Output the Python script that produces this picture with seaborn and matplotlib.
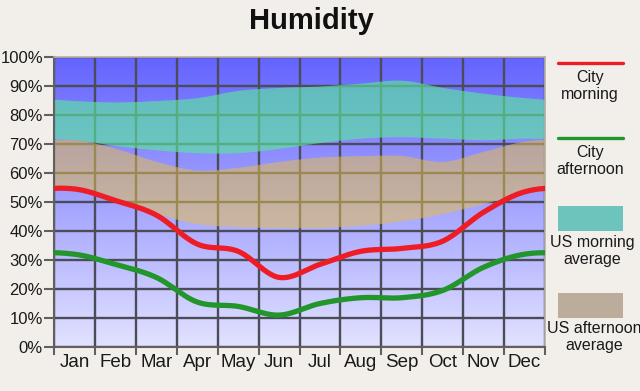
import numpy as np
import pandas as pd
import matplotlib
matplotlib.use("Agg")
import matplotlib.pyplot as plt
from matplotlib.lines import Line2D
from matplotlib.patches import Rectangle
import seaborn as sns

# Monthly humidity values (%) at month centres
MONTHS = ["Jan", "Feb", "Mar", "Apr", "May", "Jun", "Jul", "Aug", "Sep", "Oct", "Nov", "Dec"]
CITY_MORNING = [54.5, 50.5, 45.5, 35.5, 33, 24, 28.5, 33, 34, 36.5, 46.5, 53.5]
CITY_AFTERNOON = [32, 28.5, 24, 15.5, 14, 11, 15, 17, 17, 19.5, 27.5, 32]
US_MORNING_HIGH = [85, 84.5, 85, 86, 88.5, 89.5, 90, 91, 92, 89.5, 87.5, 86]
US_MORNING_LOW = [71.5, 69.5, 68, 67, 67, 68.5, 70.5, 72, 72.5, 72, 71.5, 72]
US_AFTERNOON_HIGH = [71.5, 68.5, 64, 61, 62, 64, 65.5, 66, 66, 64, 67.5, 71]
US_AFTERNOON_LOW = [54.5, 50, 46, 42.5, 41.5, 41.2, 41.2, 42, 43.5, 46, 49.5, 53]

BG = "#f2efeb"
FONT = ["Liberation Sans", "DejaVu Sans"]


def smooth_curve(vals, n=24):
    """Periodic Catmull-Rom curve through the monthly points (drawing only)."""
    v = np.asarray(vals, dtype=float)
    k = len(v)
    xs, ys = [], []
    t = np.linspace(0, 1, n, endpoint=False)
    for i in range(-1, k):
        p0, p1, p2, p3 = v[(i - 1) % k], v[i % k], v[(i + 1) % k], v[(i + 2) % k]
        y = 0.5 * (2 * p1 + (-p0 + p2) * t + (2 * p0 - 5 * p1 + 4 * p2 - p3) * t ** 2
                   + (-p0 + 3 * p1 - 3 * p2 + p3) * t ** 3)
        xs.append(i + 0.5 + t)
        ys.append(y)
    return np.concatenate(xs), np.concatenate(ys)


sns.set_style("white")
plt.rcParams["font.family"] = FONT

fig = plt.figure(figsize=(6.4, 3.91), dpi=100, facecolor=BG)
ax = fig.add_axes([54 / 640, 1 - 347 / 391, 491 / 640, 290 / 391])

# gradient background, dark blue at top to pale lavender at bottom
grad = np.linspace(0, 1, 256).reshape(-1, 1)
cols = np.zeros((256, 1, 3))
cols[..., 0] = (100 + 126 * grad) / 255
cols[..., 1] = (100 + 126 * grad) / 255
cols[..., 2] = 1.0
ax.imshow(cols, extent=[0, 12, 0, 100], aspect="auto", zorder=-2, origin="upper")

# grid
for xv in range(13):
    ax.axvline(xv, color="#4c4c58", lw=1.7, zorder=0)
for yv in range(0, 101, 10):
    ax.axhline(yv, color="#4c4c58", lw=1.7, zorder=0)

# US bands
x, lo = smooth_curve(US_MORNING_LOW)
_, hi = smooth_curve(US_MORNING_HIGH)
ax.fill_between(x, lo, hi, color=(90 / 255, 233 / 255, 154 / 255), alpha=0.63, lw=0, zorder=1)
x, lo = smooth_curve(US_AFTERNOON_LOW)
_, hi = smooth_curve(US_AFTERNOON_HIGH)
ax.fill_between(x, lo, hi, color=(228 / 255, 190 / 255, 75 / 255), alpha=0.53, lw=0, zorder=1)

# city lines
x, ym = smooth_curve(CITY_MORNING)
_, ya = smooth_curve(CITY_AFTERNOON)
df = pd.DataFrame({"x": x, "morning": ym, "afternoon": ya})
sns.lineplot(data=df, x="x", y="morning", color="#ee1c24", lw=3.8, ax=ax, zorder=3, sort=False)
sns.lineplot(data=df, x="x", y="afternoon", color="#22962a", lw=3.8, ax=ax, zorder=3, sort=False)

ax.set_xlim(0, 12)
ax.set_ylim(0, 100)
ax.set_xlabel("")
ax.set_ylabel("")

ax.set_yticks(range(0, 101, 10))
ax.set_yticklabels([f"{v}%" for v in range(0, 101, 10)], fontsize=12, color="#1a1a1a")
ax.set_xticks(range(13))
ax.set_xticklabels([])
ax.set_xticks(np.arange(12) + 0.5, minor=True)
ax.set_xticklabels(MONTHS, minor=True, fontsize=13.5, color="#1a1a1a")
ax.tick_params(axis="y", which="major", length=7, width=1.5, color="#606060", pad=1, left=True)
ax.tick_params(axis="x", which="major", length=6, width=1.5, color="#606060", bottom=True)
ax.tick_params(axis="x", which="minor", length=0, pad=5)

for side in ["left", "bottom"]:
    ax.spines[side].set_color("#606060")
    ax.spines[side].set_linewidth(1.5)
for side in ["top", "right"]:
    ax.spines[side].set_color("#b8b0a8")
    ax.spines[side].set_linewidth(1.2)

fig.text(311 / 640, 1 - 21 / 391, "Humidity", ha="center", va="center",
         fontsize=21, fontweight="bold", color="#111111")

# legend on the right
fig.add_artist(Line2D([558 / 640, 623 / 640], [1 - 63 / 391] * 2, color="#ee1c24", lw=2.4))
fig.text(590 / 640, 1 - 70 / 391, "City\nmorning", ha="center", va="top", fontsize=11.5,
         color="#1a1a1a", linespacing=1.15)
fig.add_artist(Line2D([558 / 640, 623 / 640], [1 - 138 / 391] * 2, color="#22962a", lw=2.4))
fig.text(590 / 640, 1 - 145 / 391, "City\nafternoon", ha="center", va="top", fontsize=11.5,
         color="#1a1a1a", linespacing=1.15)
fig.add_artist(Rectangle((558 / 640, 1 - 231 / 391), 65 / 640, 25 / 391,
                         transform=fig.transFigure, color="#6cc4bc", lw=0))
fig.text(592 / 640, 1 - 235 / 391, "US morning\naverage", ha="center", va="top", fontsize=11.5,
         color="#1a1a1a", linespacing=1.15)
fig.add_artist(Rectangle((558 / 640, 1 - 318 / 391), 65 / 640, 25 / 391,
                         transform=fig.transFigure, color="#bcac9c", lw=0))
fig.text(594 / 640, 1 - 321 / 391, "US afternoon\naverage", ha="center", va="top", fontsize=11.5,
         color="#1a1a1a", linespacing=1.15)

fig.savefig("out.png", dpi=100, facecolor=BG)
